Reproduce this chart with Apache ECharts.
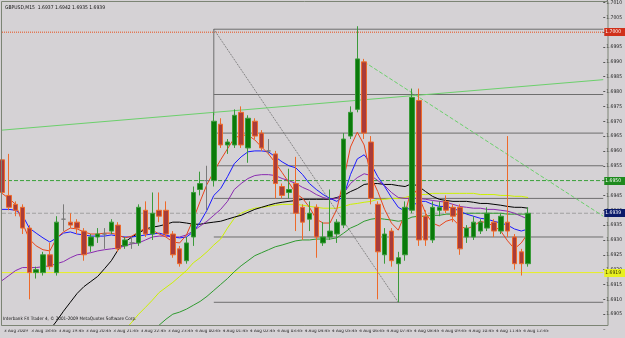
<!DOCTYPE html>
<html><head><meta charset="utf-8">
<script src="https://cdn.jsdelivr.net/npm/echarts@6/dist/echarts.min.js"></script>
<style>html,body{margin:0;padding:0;background:#d5d2d5}#c{width:625px;height:338px}</style>
</head><body><div id="c"></div>
<script>
// ---- DATA ----
const titleText = "GBPUSD,M15  1.6937 1.6942 1.6935 1.6939";
const copyright = "Interbank FX Trader 4, \u00a9 2001-2009 MetaQuotes Software Corp.";
const xTickLabels = ["3 Aug 2009","3 Aug 18:45","3 Aug 19:45","3 Aug 20:45","3 Aug 21:45","3 Aug 22:45","3 Aug 23:45",
 "4 Aug 00:45","4 Aug 01:45","4 Aug 02:45","4 Aug 03:45","4 Aug 04:45","4 Aug 05:45","4 Aug 06:45","4 Aug 07:45",
 "4 Aug 08:45","4 Aug 09:45","4 Aug 10:45","4 Aug 11:45","4 Aug 12:45"];
// [open, close, low, high]
const ohlc = [
[1.6957,1.6946,1.6945,1.6970],[1.6945,1.6941,1.6940,1.6959],[1.6942,1.6940,1.6938,1.6943],[1.6941,1.6934,1.6932,1.6942],
[1.6934,1.6919,1.6910,1.6935],[1.6919,1.6920,1.6917,1.6921],[1.6919,1.6925,1.6918,1.6926],[1.6925,1.6921,1.6920,1.6929],
[1.6919,1.6936,1.6918,1.6938],[1.6937,1.6937,1.6933,1.6942],[1.6936,1.6935,1.6934,1.6939],[1.6936,1.6934,1.6932,1.6937],
[1.6933,1.6925,1.6923,1.6934],[1.6928,1.6931,1.6926,1.6932],[1.6931,1.6932,1.6929,1.6934],[1.6932,1.6932,1.6927,1.6934],
[1.6933,1.6936,1.6932,1.6937],[1.6935,1.6927,1.6926,1.6936],[1.6928,1.6930,1.6927,1.6931],[1.6929,1.6929,1.6927,1.6931],
[1.6929,1.6941,1.6928,1.6942],[1.6940,1.6932,1.6931,1.6943],[1.6932,1.6939,1.6930,1.6946],[1.6940,1.6938,1.6936,1.6946],
[1.6940,1.6932,1.6931,1.6943],[1.6932,1.6925,1.6924,1.6933],[1.6927,1.6922,1.6921,1.6928],[1.6923,1.6929,1.6922,1.6931],
[1.6931,1.6946,1.6928,1.6948],[1.6947,1.6949,1.6945,1.6953],[1.6950,1.6950,1.6940,1.6955],[1.6950,1.6970,1.6948,1.6973],
[1.6969,1.6962,1.6961,1.6971],[1.6962,1.6963,1.6959,1.6964],[1.6962,1.6972,1.6961,1.6974],[1.6973,1.6962,1.6961,1.6975],
[1.6961,1.6971,1.6956,1.6972],[1.6970,1.6965,1.6964,1.6971],[1.6966,1.6961,1.6960,1.6967],[1.6960,1.6960,1.6959,1.6964],
[1.6959,1.6949,1.6944,1.6960],[1.6948,1.6945,1.6944,1.6949],[1.6946,1.6947,1.6944,1.6954],[1.6949,1.6939,1.6933,1.6958],
[1.6941,1.6936,1.6930,1.6942],[1.6937,1.6939,1.6933,1.6943],[1.6941,1.6931,1.6924,1.6942],[1.6929,1.6931,1.6928,1.6936],
[1.6931,1.6933,1.6930,1.6947],[1.6932,1.6936,1.6929,1.6937],[1.6935,1.6964,1.6934,1.6966],[1.6965,1.6973,1.6964,1.6975],
[1.6974,1.6991,1.6973,1.7002],[1.6990,1.6966,1.6964,1.6991],[1.6963,1.6944,1.6942,1.6965],[1.6942,1.6926,1.6910,1.6943],
[1.6925,1.6932,1.6922,1.6934],[1.6933,1.6923,1.6921,1.6934],[1.6922,1.6924,1.6909,1.6926],[1.6925,1.6941,1.6923,1.6943],
[1.6940,1.6978,1.6939,1.6981],[1.6977,1.6930,1.6928,1.6981],[1.6938,1.6930,1.6928,1.6940],[1.6930,1.6941,1.6929,1.6943],
[1.6940,1.6941,1.6938,1.6943],[1.6943,1.6940,1.6939,1.6945],[1.6941,1.6938,1.6936,1.6942],[1.6941,1.6927,1.6925,1.6942],
[1.6931,1.6934,1.6929,1.6935],[1.6931,1.6936,1.6930,1.6938],[1.6933,1.6936,1.6932,1.6937],[1.6934,1.6939,1.6933,1.6941],
[1.6936,1.6933,1.6931,1.6937],[1.6933,1.6938,1.6932,1.6939],[1.6936,1.6933,1.6931,1.6965],[1.6931,1.6922,1.6920,1.6932],
[1.6926,1.6922,1.6918,1.6927],[1.6922,1.6939,1.6921,1.6941]];
const dojiIdx = [9,15,19,30,39];
const redMA = [1.69457,1.69440,1.69420,1.69357,1.69303,1.69280,1.69267,1.69263,1.69307,1.69327,1.69340,1.69337,1.69327,1.69320,1.69320,1.69323,1.69323,1.69317,1.69307,1.69313,
1.69327,1.69340,1.69333,1.69320,1.69310,1.69293,1.69290,1.69317,1.69370,1.69430,1.69487,1.69530,1.69570,1.69607,1.69643,1.69653,1.69653,1.69637,1.69613,1.69590,
1.69560,1.69527,1.69493,1.69457,1.69440,1.69410,1.69370,1.69357,1.69357,1.69403,1.69503,1.69613,1.69663,1.69620,1.69513,1.69463,1.69403,1.69357,1.69333,1.69390,
1.69480,1.69447,1.69390,1.69357,1.69347,1.69363,1.69370,1.69347,1.69337,1.69347,1.69363,1.69357,1.69347,1.69330,1.69297,1.69270,1.69290,1.69323];
const blueMA = [1.69403,1.69403,1.69400,1.69383,1.69340,1.69323,1.69307,1.69293,1.69307,1.69323,1.69327,1.69320,1.69317,1.69313,1.69313,1.69313,1.69317,1.69313,1.69310,1.69310,
1.69313,1.69317,1.69320,1.69323,1.69317,1.69310,1.69307,1.69310,1.69327,1.69360,1.69400,1.69450,1.69473,1.69513,1.69557,1.69580,1.69597,1.69600,1.69600,1.69597,
1.69580,1.69563,1.69550,1.69543,1.69520,1.69490,1.69470,1.69453,1.69440,1.69430,1.69447,1.69520,1.69573,1.69587,1.69557,1.69513,1.69480,1.69443,1.69410,1.69397,
1.69413,1.69430,1.69430,1.69420,1.69413,1.69413,1.69407,1.69397,1.69387,1.69380,1.69373,1.69370,1.69363,1.69357,1.69350,1.69337,1.69330,1.69337];
const purpleMA = [1.69163,1.69180,1.69197,1.69207,1.69207,1.69207,1.69210,1.69213,1.69220,1.69227,1.69240,1.69250,1.69253,1.69257,1.69263,1.69267,1.69270,1.69273,1.69280,1.69287,
1.69290,1.69300,1.69310,1.69313,1.69313,1.69310,1.69310,1.69317,1.69330,1.69347,1.69363,1.69383,1.69403,1.69430,1.69470,1.69490,1.69507,1.69517,1.69520,1.69520,
1.69517,1.69507,1.69500,1.69490,1.69477,1.69467,1.69453,1.69443,1.69437,1.69440,1.69457,1.69490,1.69510,1.69523,1.69517,1.69500,1.69483,1.69460,1.69443,1.69440,
1.69440,1.69440,1.69437,1.69433,1.69430,1.69427,1.69420,1.69413,1.69410,1.69407,1.69407,1.69403,1.69403,1.69400,1.69397,1.69390,1.69380,1.69370];
const blackMA = [null,null,null,null,null,null,1.68963,1.68997,1.69027,1.69060,1.69090,1.69120,1.69143,1.69160,1.69177,1.69203,1.69230,1.69267,1.69293,1.69310,
1.69323,1.69337,1.69343,1.69347,1.69353,1.69360,1.69360,1.69357,1.69353,1.69353,1.69357,1.69360,1.69363,1.69370,1.69377,1.69383,1.69393,1.69403,1.69410,1.69417,
1.69423,1.69427,1.69430,1.69433,1.69437,1.69437,1.69437,1.69437,1.69437,1.69443,1.69450,1.69463,1.69473,1.69487,1.69490,1.69490,1.69487,1.69487,1.69483,1.69480,
1.69490,1.69480,1.69463,1.69447,1.69437,1.69433,1.69430,1.69430,1.69430,1.69427,1.69423,1.69423,1.69420,1.69417,1.69413,1.69410,1.69410,1.69407];
const yellowMA = [null,null,null,null,null,null,null,null,null,null,null,null,null,null,null,null,1.68947,1.68973,1.68997,1.69023,
1.69050,1.69073,1.69097,1.69123,1.69140,1.69157,1.69177,1.69197,1.69223,1.69240,1.69260,1.69283,1.69303,1.69340,1.69373,1.69390,1.69400,1.69407,1.69410,1.69413,
1.69417,1.69420,1.69420,1.69420,1.69417,1.69413,1.69410,1.69407,1.69407,1.69407,1.69413,1.69420,1.69423,1.69427,1.69430,1.69437,1.69437,1.69440,1.69440,1.69443,
1.69450,1.69453,1.69453,1.69457,1.69457,1.69457,1.69457,1.69457,1.69457,1.69457,1.69453,1.69453,1.69453,1.69450,1.69450,1.69447,1.69447,1.69443];
const greenMA = [null,null,null,null,null,null,null,null,null,null,null,null,null,null,null,null,null,null,null,null,
1.68947,1.68970,1.68993,1.69013,1.69033,1.69050,1.69057,1.69067,1.69080,1.69093,1.69110,1.69130,1.69150,1.69170,1.69193,1.69213,1.69230,1.69247,1.69257,1.69267,
1.69277,1.69283,1.69290,1.69297,1.69300,1.69300,1.69303,1.69303,1.69303,1.69307,1.69323,1.69340,1.69350,1.69363,1.69370,1.69373,1.69370,1.69367,1.69363,1.69367,
1.69377,1.69380,1.69380,1.69383,1.69383,1.69387,1.69387,1.69387,1.69390,1.69390,1.69390,1.69390,1.69390,1.69390,1.69387,1.69387,1.69387,1.69387];
// Fibonacci retracement
const fibLevels = [1.7001,1.6979,1.6966,1.6955,1.6944,1.6931,1.6909];
const fibTags = ["100.0","76.4","61.8","50.0","38.2","23.6","0.0"];
const fibStartBar = 31, fibEndBar = 58;
// horizontal price lines [price, lineColour, labelBg, labelText colour, style]
const hLines = [[1.7000,"#e8501c","#d0301a","#ffffff","dotted"],[1.6950,"#3aa03a","#1e8a1e","#ffffff","dashed"],
 [1.6939,"#a0a0a0","#0a1a6a","#ffffff","dashed"],[1.6919,"#e8f020","#e8f020","#333300","solid"]];
// trend lines [[bar, price],[bar, price]]
const trendLong = [[0,1.6967],[88,1.6984]];
const trendDown = [[53,1.6990],[88,1.6938]];
// arrows [bar, price, glyph]
const arrows = [[53,1.70035,"\u21e9"],[48,1.69272,"\u21e7"],[58,1.69045,"\u21e7"]];

// ---- BUILD ----
const NSLOT = 89;
const cats = [];
for (let i = 0; i < NSLOT; i++) cats.push("b" + i);
const tickLabelAt = {};
xTickLabels.forEach((t, k) => { tickLabelAt[k * 4] = t; });
const FONT = "'Liberation Sans Narrow','DejaVu Sans Condensed',sans-serif";

const candleData = ohlc.map((d, i) => dojiIdx.includes(i)
  ? {value: d, itemStyle: {color: '#8a8a8a', color0: '#8a8a8a', borderColor: '#7a7a7a', borderColor0: '#7a7a7a'}}
  : d);

function lineS(data, color, type, w) {
  return {type: 'line', data: data, symbol: 'none', silent: true, connectNulls: false,
    lineStyle: {color: color, width: w || 1, type: type || 'solid'}, z: 3, animation: false};
}
const series = [];
hLines.forEach(h => {
  series.push(Object.assign(lineS([[0, h[0]], [88, h[0]]], h[1], h[4]), {z: 2}));
});
series.push(lineS(greenMA, '#2f9a2f'));
series.push(lineS(yellowMA, '#ccf000'));
series.push(lineS(blackMA, '#000000'));
series.push(lineS(purpleMA, '#8a2bb0'));
series.push(lineS(blueMA, '#1a1aff'));
series.push(lineS(redMA, '#e8451c'));
fibLevels.forEach((lv, k) => {
  series.push({type: 'line', symbol: 'none', silent: true, animation: false, z: 2,
    lineStyle: {color: '#6e6e6e', width: 1},
    data: [[fibStartBar, lv], {value: [88, lv], label: {show: true, position: 'top', align: 'right', distance: 0, offset: [-3, 0],
      formatter: lv.toFixed(4) + '  ' + fibTags[k], fontSize: 5, fontFamily: FONT, color: '#222'}}]});
});
series.push(lineS([[fibStartBar, fibLevels[0]], [fibStartBar, 1.6972]], '#6e6e6e'));
series.push(lineS([[fibStartBar, fibLevels[0]], [fibEndBar, fibLevels[6]]], '#6e6e6e', 'dotted'));
series.push(lineS(trendLong, '#6cd06c'));
series.push(lineS(trendDown, '#6cd06c', 'dashed'));
series.push({type: 'candlestick', data: candleData, barWidth: 5, z: 4, animation: false,
  itemStyle: {color: '#0a7a0a', color0: '#a83c3a', borderColor: '#3a9a3a', borderColor0: '#ee6a2a', borderWidth: 1}});
series.push({type: 'scatter', data: arrows.map(a => [a[0], a[1]]), symbolSize: 1, itemStyle: {opacity: 0}, z: 6, animation: false,
  label: {show: true, position: 'inside', formatter: p => arrows[p.dataIndex][2], fontSize: 15, color: '#1c9a1c',
    fontFamily: "'DejaVu Sans',sans-serif"}});

const baseGraphic = [
  {type: 'rect', z: 100, silent: true, shape: {x: 0, y: 325.5, width: 608, height: 4}, style: {fill: '#d5d2d5'}},
  {type: 'rect', z: 101, silent: true, shape: {x: 1.5, y: 1.5, width: 606.5, height: 324}, style: {fill: 'none', stroke: '#7c8474', lineWidth: 1}},
  {type: 'text', z: 102, left: 5, top: 5, style: {text: titleText, font: "5px " + FONT, fill: '#111'}},
  {type: 'text', z: 102, left: 3, top: 316, style: {text: copyright, font: "4.6px " + FONT, fill: '#111'}}
];

const chart = echarts.init(document.getElementById('c'), null, {renderer: 'canvas'});
chart.setOption({
  backgroundColor: '#d5d2d5',
  animation: false,
  grid: {left: 2, right: 17, top: 0, bottom: 9, containLabel: false},
  xAxis: {type: 'category', data: cats, boundaryGap: false, offset: -4,
    axisLine: {show: true, lineStyle: {color: '#7c8474'}},
    axisTick: {show: true, length: 3, interval: (i) => tickLabelAt[i] !== undefined, lineStyle: {color: '#555'}},
    axisLabel: {interval: (i) => tickLabelAt[i] !== undefined, formatter: (v, i) => tickLabelAt[i] || '',
      align: 'left', margin: 3, fontSize: 4.6, fontFamily: FONT, color: '#222', padding: [0, 0, 0, 2]},
    splitLine: {show: false}},
  yAxis: {type: 'value', position: 'right', min: 1.6900, max: 1.7010, interval: 0.0005, scale: true,
    axisLine: {show: false}, splitLine: {show: false},
    axisTick: {show: true, length: 2, lineStyle: {color: '#555'}},
    axisLabel: {margin: 3, fontSize: 5, fontFamily: FONT, color: '#222',
      formatter: v => (v < 1.69025 ? '' : v.toFixed(4))}},
  series: series,
  graphic: baseGraphic
});
// price tags on the right axis, positioned through the chart's own scale
const xr = chart.convertToPixel({xAxisIndex: 0}, 88);
const tags = hLines.map(h => {
  const y = Math.round(chart.convertToPixel({yAxisIndex: 0}, h[0]));
  return {type: 'group', z: 110, children: [
    {type: 'rect', z: 110, shape: {x: xr + 1, y: y - 4, width: 625 - xr - 1, height: 8}, style: {fill: h[2]}},
    {type: 'text', z: 111, x: xr + 2, y: y - 3, style: {text: h[0].toFixed(4), font: "5px " + FONT, fill: h[3]}}
  ]};
});
chart.setOption({graphic: baseGraphic.concat(tags)});
</script></body></html>
